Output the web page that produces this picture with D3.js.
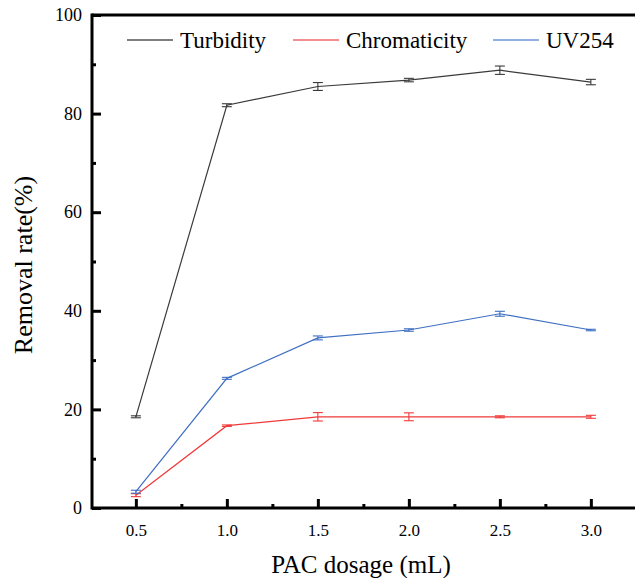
<!DOCTYPE html>
<html>
<head>
<meta charset="utf-8">
<script src="https://cdn.jsdelivr.net/npm/d3@7"></script>
<style>
  html, body { margin: 0; padding: 0; background: #fff; }
  svg text { font-family: "Liberation Serif", "Times New Roman", Times, serif !important; }
</style>
</head>
<body>
<svg id="chart" width="635" height="578"></svg>
<script>
// PAC dosage (mL)
const dosage = [0.5, 1.0, 1.5, 2.0, 2.5, 3.0];

// Removal rate (%) and standard deviation for each indicator
const turbidity      = [18.5, 81.7, 85.5, 86.8, 88.8, 86.4];
const turbidityErr   = [0.2, 0.3, 0.8, 0.35, 0.85, 0.55];
const chromaticity    = [2.6, 16.7, 18.5, 18.5, 18.5, 18.5];
const chromaticityErr = [0.3, 0.15, 0.85, 0.8, 0.2, 0.3];
const uv254          = [3.3, 26.3, 34.5, 36.1, 39.4, 36.1];
const uv254Err       = [0.3, 0.2, 0.4, 0.25, 0.5, 0.15];

const seriesNames  = ["Turbidity", "Chromaticity", "UV254"];
const seriesColors = ["#3a3a3a", "#f03a3a", "#3f6fc2"];
const legendColors = ["#555555", "#f06a6a", "#6b97d6"];

const xTicks = [0.5, 1.0, 1.5, 2.0, 2.5, 3.0];
const xMinorTicks = [0.75, 1.25, 1.75, 2.25, 2.75];
const yTicks = [0, 20, 40, 60, 80, 100];
const yMinorTicks = [10, 30, 50, 70, 90];

const series = [
  { name: seriesNames[0], values: turbidity, errs: turbidityErr, color: seriesColors[0] },
  { name: seriesNames[1], values: chromaticity, errs: chromaticityErr, color: seriesColors[1] },
  { name: seriesNames[2], values: uv254, errs: uv254Err, color: seriesColors[2] }
];

const svg = d3.select("#chart");
const plotLeft = 92, plotTop = 15, plotBottom = 508, plotRight = 640;

const x = d3.scaleLinear().domain([0.259, 3.27]).range([plotLeft, plotRight]);
const y = d3.scaleLinear().domain([0, 100]).range([plotBottom, plotTop]);

// frame
const frame = svg.append("g").attr("stroke", "#000").attr("stroke-width", 3).attr("fill", "none");
frame.append("line").attr("x1", plotLeft).attr("x2", plotRight).attr("y1", plotTop).attr("y2", plotTop);
frame.append("line").attr("x1", plotLeft).attr("x2", plotRight).attr("y1", plotBottom).attr("y2", plotBottom);
frame.append("line").attr("x1", plotLeft).attr("x2", plotLeft).attr("y1", plotTop - 1.5).attr("y2", plotBottom + 1.5);

// x axis: inward ticks
const xAxis = d3.axisBottom(x).tickValues(xTicks).tickFormat(d3.format(".1f"))
  .tickSizeInner(-9).tickSizeOuter(0).tickPadding(16);
const gx = svg.append("g").attr("transform", `translate(0,${plotBottom})`).call(xAxis);
gx.select(".domain").remove();
gx.selectAll(".tick line").attr("stroke-width", 3).attr("stroke", "#000");
gx.selectAll(".tick text").attr("font-size", 17).attr("fill", "#000");
const gxm = svg.append("g").attr("transform", `translate(0,${plotBottom})`)
  .call(d3.axisBottom(x).tickValues(xMinorTicks).tickFormat("").tickSizeInner(-4).tickSizeOuter(0));
gxm.select(".domain").remove();
gxm.selectAll(".tick line").attr("stroke-width", 3).attr("stroke", "#000");

// y axis: inward ticks
const yAxis = d3.axisLeft(y).tickValues(yTicks).tickFormat(d3.format("d"))
  .tickSizeInner(-9).tickSizeOuter(0).tickPadding(10);
const gy = svg.append("g").attr("transform", `translate(${plotLeft},0)`).call(yAxis);
gy.select(".domain").remove();
gy.selectAll(".tick line").attr("stroke-width", 3).attr("stroke", "#000");
gy.selectAll(".tick text").attr("font-size", 18).attr("fill", "#000");
const gym = svg.append("g").attr("transform", `translate(${plotLeft},0)`)
  .call(d3.axisLeft(y).tickValues(yMinorTicks).tickFormat("").tickSizeInner(-4).tickSizeOuter(0));
gym.select(".domain").remove();
gym.selectAll(".tick line").attr("stroke-width", 3).attr("stroke", "#000");

// axis titles
svg.append("text")
  .attr("x", 361).attr("y", 573)
  .attr("text-anchor", "middle").attr("font-size", 25).attr("fill", "#000")
  .text("PAC dosage (mL)");
svg.append("text")
  .attr("transform", "translate(32,265) rotate(-90)")
  .attr("text-anchor", "middle").attr("font-size", 26).attr("fill", "#000")
  .text("Removal rate(%)");

// series lines and error bars
const line = d3.line().x((d, i) => x(dosage[i])).y(d => y(d));
series.forEach(s => {
  const g = svg.append("g");
  g.append("path").datum(s.values)
    .attr("d", line).attr("fill", "none")
    .attr("stroke", s.color).attr("stroke-width", 1.2);
  const eb = g.selectAll(".eb").data(s.values).enter().append("g")
    .attr("stroke", s.color).attr("stroke-width", 1.1);
  eb.append("line")
    .attr("x1", (d, i) => x(dosage[i])).attr("x2", (d, i) => x(dosage[i]))
    .attr("y1", (d, i) => y(d + s.errs[i])).attr("y2", (d, i) => y(d - s.errs[i]));
  eb.append("line")
    .attr("x1", (d, i) => x(dosage[i]) - 5).attr("x2", (d, i) => x(dosage[i]) + 5)
    .attr("y1", (d, i) => y(d + s.errs[i])).attr("y2", (d, i) => y(d + s.errs[i]));
  eb.append("line")
    .attr("x1", (d, i) => x(dosage[i]) - 5).attr("x2", (d, i) => x(dosage[i]) + 5)
    .attr("y1", (d, i) => y(d - s.errs[i])).attr("y2", (d, i) => y(d - s.errs[i]));
});

// legend
const legendX = [127, 293, 493];
const legend = svg.append("g");
series.forEach((s, i) => {
  legend.append("line")
    .attr("x1", legendX[i]).attr("x2", legendX[i] + 46)
    .attr("y1", 40).attr("y2", 40)
    .attr("stroke", legendColors[i]).attr("stroke-width", 1.3);
  legend.append("text")
    .attr("x", legendX[i] + 53).attr("y", 48)
    .attr("font-size", 23).attr("fill", "#000")
    .text(s.name);
});
</script>
</body>
</html>
